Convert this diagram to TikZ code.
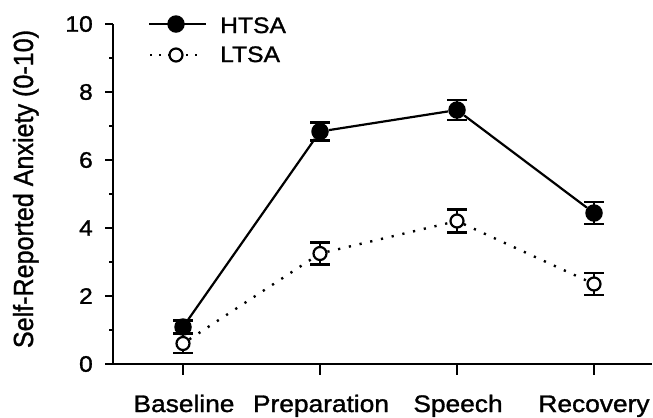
\documentclass[tikz,border=0pt]{standalone}
\usepackage{fontspec}
\usepackage{graphicx}
\setmainfont{Liberation Sans}[FakeBold=1.2]
\pgfdeclarelayer{bg}
\pgfsetlayers{bg,main}
\newcommand\hx[1]{\scalebox{1.1}[1]{#1}}
\newcommand\errbar[2]{%
  \draw[errb] ([yshift=#2]#1.center) -- ([yshift=-#2]#1.center)
    ([xshift=-10bp,yshift=#2]#1.center) -- ([xshift=10bp,yshift=#2]#1.center)
    ([xshift=-10bp,yshift=-#2]#1.center) -- ([xshift=10bp,yshift=-#2]#1.center);}
\begin{document}
\begin{tikzpicture}[x=1bp,y=-1bp,
  axis/.style={line width=2.2bp},
  tickline/.style={line width=2bp},
  hline/.style={line width=2.2bp},
  lline/.style={line width=2.4bp, dash pattern=on 2.2bp off 8.8bp},
  legdot/.style={line width=2.4bp, dash pattern=on 2.2bp off 6.8bp},
  errb/.style={line width=2.2bp},
  hmark/.style={circle, fill=black, minimum size=17.5bp, inner sep=0pt},
  lmark/.style={circle, draw=black, fill=white, line width=2.2bp, minimum size=13bp, inner sep=0pt},
  ticklab/.style={anchor=east, font=\fontsize{22.5}{26}\selectfont, inner sep=0pt},
  catlab/.style={anchor=base, font=\fontsize{24}{28}\selectfont, inner sep=0pt},
  leglab/.style={anchor=base west, font=\fontsize{22.5}{26}\selectfont, inner sep=0pt}]
\useasboundingbox (0,0) rectangle (653,417);

% axes
\coordinate (o) at (113,364);
\coordinate (ytop) at (113,24);
\coordinate (xend) at (652,364);
\draw[axis] (ytop) -- (o) -- (xend);
\foreach \v/\y in {0/364,2/296,4/228,6/160,8/92,10/24}{
  \draw[tickline] (105,\y) -- (113,\y);
  \node[ticklab] (t\v) at (93,\y) {\hx{\v}};
}
\foreach \y in {58,126,194,262,330}{
  \draw[tickline] (109,\y) -- (113,\y);
}
\foreach \x in {183,320,457,594}{
  \draw[tickline] (\x,364) -- (\x,375);
}
\node[catlab] (cB) at (184,412) {\hx{Baseline}};
\node[catlab] (cP) at (321,412) {\hx{Preparation}};
\node[catlab] (cS) at (458,412) {\hx{Speech}};
\node[catlab] (cR) at (594,412) {\hx{Recovery}};

\node[rotate=90, anchor=base, font=\fontsize{25.2}{30}\selectfont, inner sep=0pt] (ytitle) at (33,189)
  {\scalebox{1}[1.1]{Self-Reported Anxiety (0-10)}};

% data markers
\node[hmark] (h1) at (183,327) {};
\node[hmark] (h2) at (320,131.5) {};
\node[hmark] (h3) at (457,110) {};
\node[hmark] (h4) at (594,213) {};
\node[lmark] (l1) at (183,343.5) {};
\node[lmark] (l2) at (320,253.5) {};
\node[lmark] (l3) at (457,221) {};
\node[lmark] (l4) at (594,284) {};

% legend
\coordinate (lh0) at (149,24);
\coordinate (lh1) at (206,24);
\coordinate (ll0) at (150,55);
\coordinate (ll1) at (198,55);
\node[hmark] (lhm) at (176,24) {};
\node[lmark] (llm) at (176,55) {};
\node[leglab] (legH) at (220,33) {\hx{HTSA}};
\node[leglab] (legL) at (220,62) {\hx{LTSA}};

\begin{pgfonlayer}{bg}
  \draw[hline] (lh0) -- (lh1);
  \draw[legdot] (ll0) -- (ll1);
  \draw[hline] (h1) -- (h2) -- (h3) -- (h4);
  \draw[lline] (l1) -- (l2) -- (l3) -- (l4);
  \errbar{h1}{6.5bp}
  \errbar{h2}{9bp}
  \errbar{h3}{10bp}
  \errbar{h4}{11bp}
  \errbar{l1}{9.5bp}
  \errbar{l2}{11bp}
  \errbar{l3}{11.5bp}
  \errbar{l4}{11bp}
\end{pgfonlayer}
\end{tikzpicture}
\end{document}
